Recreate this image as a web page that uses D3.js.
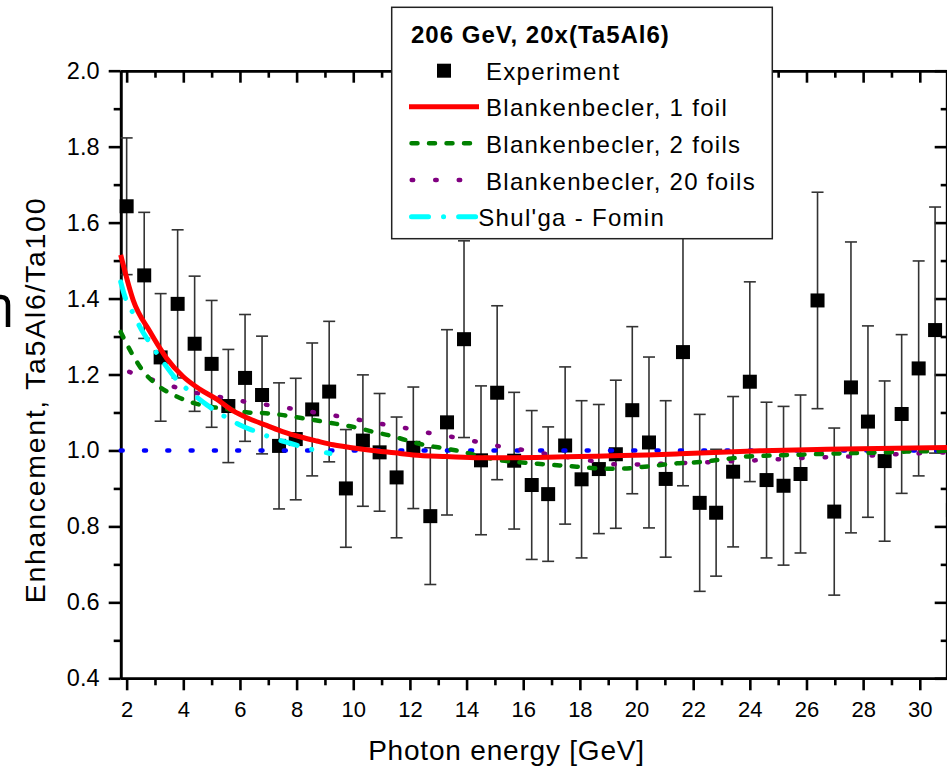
<!DOCTYPE html>
<html><head><meta charset="utf-8">
<script src="https://cdn.jsdelivr.net/npm/d3@7"></script>
<style>body{margin:0;background:#fff} svg{display:block}</style>
</head><body>
<script>
// ---------- data ----------
const energies = [2.00,2.62,3.20,3.80,4.40,5.00,5.59,6.18,6.78,7.38,7.97,8.55,9.15,9.74,10.34,10.93,11.53,12.12,12.72,13.31,13.91,14.51,15.08,15.68,16.30,16.88,17.48,18.06,18.67,19.27,19.85,20.44,21.03,21.64,22.23,22.81,23.41,24.00,24.59,25.19,25.79,26.39,26.98,27.57,28.17,28.76,29.36,29.96,30.54,31.17];
const enhancement = [1.643,1.461,1.245,1.386,1.281,1.228,1.117,1.191,1.146,1.012,1.030,1.108,1.155,0.900,1.026,0.995,0.929,1.007,0.827,1.074,1.293,0.974,1.152,0.973,0.909,0.885,1.013,0.924,0.951,0.990,1.106,1.021,0.925,1.259,0.862,0.836,0.944,1.181,0.922,0.907,0.938,1.395,0.839,1.166,1.076,0.972,1.096,1.216,1.317,0.843];
const errors = [0.180,0.166,0.168,0.195,0.178,0.167,0.149,0.167,0.155,0.166,0.160,0.175,0.185,0.155,0.173,0.155,0.159,0.160,0.180,0.244,0.259,0.196,0.229,0.180,0.196,0.177,0.207,0.207,0.170,0.195,0.220,0.225,0.206,0.352,0.233,0.167,0.198,0.263,0.205,0.209,0.208,0.285,0.220,0.383,0.252,0.211,0.209,0.283,0.324,0.180];

const oneFoilE = [1.79,2.23,2.82,3.41,4.00,4.59,5.18,5.76,6.35,6.94,7.53,8.12,8.71,9.29,9.88,10.47,11.65,12.11,13.30,14.47,15.64,16.83,18.00,19.17,20.36,21.53,24.36,26.71,30.96];
const oneFoilV = [1.515,1.396,1.313,1.243,1.194,1.161,1.135,1.104,1.083,1.066,1.049,1.036,1.025,1.015,1.008,1.002,0.992,0.988,0.984,0.981,0.981,0.982,0.984,0.986,0.988,0.991,0.999,1.003,1.008];

const twoFoilsE = [1.79,2.18,2.57,3.12,3.77,4.41,5.06,5.65,6.29,6.91,7.53,8.12,8.77,9.41,10.06,10.71,11.36,11.83,12.53,13.18,13.83,14.47,15.12,15.71,16.35,17.00,17.59,18.24,18.89,19.47,20.12,20.77,21.42,22.00,22.65,23.24,23.89,24.53,25.77,27.01,28.30,29.53,30.95];
const twoFoilsV = [1.312,1.256,1.210,1.170,1.142,1.124,1.114,1.108,1.100,1.098,1.093,1.086,1.078,1.070,1.061,1.049,1.038,1.028,1.014,1.006,0.997,0.985,0.975,0.970,0.966,0.962,0.959,0.955,0.952,0.952,0.956,0.961,0.966,0.968,0.973,0.978,0.984,0.986,0.989,0.992,0.994,0.997,0.999];

const twentyFoilsE = [2.09,2.92,3.74,4.59,5.41,6.24,7.06,7.91,8.73,9.56,10.39,11.20,12.06,12.88,13.71,14.55,15.38,16.20,17.02,17.89,18.71,19.53,20.36,21.18,22.85,24.51,26.16,27.83,29.50,30.95];
const twentyFoilsV = [1.207,1.186,1.166,1.149,1.139,1.128,1.119,1.109,1.099,1.089,1.078,1.067,1.056,1.043,1.033,1.020,1.008,0.999,0.988,0.979,0.969,0.962,0.964,0.966,0.970,0.975,0.981,0.985,0.991,0.995];

const shulgaE = [1.79,1.94,2.23,2.53,2.82,3.24,3.77,4.24,4.83,5.47,6.00,6.59,7.18,7.77,8.36,9.00,9.18];
const shulgaV = [1.444,1.405,1.361,1.317,1.283,1.238,1.186,1.155,1.120,1.089,1.067,1.049,1.032,1.019,1.006,0.995,0.992];

const referenceE = [1.79,30.95];
const referenceV = [1.0,1.0];

const xMajorTicks = [2,4,6,8,10,12,14,16,18,20,22,24,26,28,30];
const xMinorTicks = [3,5,7,9,11,13,15,17,19,21,23,25,27,29];
const yMajorTicks = [0.4,0.6,0.8,1.0,1.2,1.4,1.6,1.8,2.0];
const yMinorTicks = [0.5,0.7,0.9,1.1,1.3,1.5,1.7,1.9];

const legendTitle = "206 GeV, 20x(Ta5Al6)";
const legendLabels = ["Experiment","Blankenbecler, 1 foil","Blankenbecler, 2 foils","Blankenbecler, 20 foils","Shul'ga - Fomin"];
const xTitle = "Photon energy [GeV]";
const yTitle = "Enhancement, Ta5Al6/Ta100";

// ---------- layout ----------
const W = 947, H = 768;
const L = 120.7, R = 946.7, T = 70.7, B = 678.3;
const FONT = "'Liberation Sans', Arial, sans-serif";

const svg = d3.select("body").append("svg").attr("width", W).attr("height", H);
const x = d3.scaleLinear().domain([1.79, 30.95]).range([L, R]);
const y = d3.scaleLinear().domain([0.4, 2.0]).range([B, T]);

const styles = {
  reference: {color:"#0000ff", width:4.5, dash:"2,21.3", cap:"round"},
  twenty: {color:"#800080", width:4.5, dash:"1.5,22", cap:"round"},
  two: {color:"#008000", width:4.5, dash:"6,11.5", cap:"round"},
  shulga: {color:"#00ffff", width:5, dash:"17,15,0.1,15", cap:"round"},
  one: {color:"#ff0000", width:5, dash:null, cap:"butt"}
};

// ---------- axes ----------
function styleAxis(g){
  g.select(".domain").attr("stroke","#000").attr("stroke-width",2.6);
  g.selectAll(".tick line").attr("stroke","#000").attr("stroke-width",2.6);
}
// bottom
const gB = svg.append("g").attr("transform",`translate(0,${B})`)
  .call(d3.axisBottom(x).tickValues(xMajorTicks).tickSize(12).tickSizeOuter(0).tickPadding(11.4).tickFormat(d3.format("d")));
styleAxis(gB);
gB.selectAll("text").attr("font-family",FONT).attr("font-size",22).attr("fill","#000");
const gBm = svg.append("g").attr("transform",`translate(0,${B})`)
  .call(d3.axisBottom(x).tickValues(xMinorTicks).tickSize(7).tickSizeOuter(0).tickFormat(""));
styleAxis(gBm);
// top (inward)
const gT = svg.append("g").attr("transform",`translate(0,${T})`)
  .call(d3.axisBottom(x).tickValues(xMajorTicks).tickSize(12).tickSizeOuter(0).tickFormat(""));
styleAxis(gT);
const gTm = svg.append("g").attr("transform",`translate(0,${T})`)
  .call(d3.axisBottom(x).tickValues(xMinorTicks).tickSize(7).tickSizeOuter(0).tickFormat(""));
styleAxis(gTm);
// left
const gL = svg.append("g").attr("transform",`translate(${L},0)`)
  .call(d3.axisLeft(y).tickValues(yMajorTicks).tickSize(12).tickSizeOuter(0).tickPadding(9.2).tickFormat(d3.format(".1f")));
styleAxis(gL);
gL.selectAll("text").attr("font-family",FONT).attr("font-size",23.5).attr("fill","#000");
const gLm = svg.append("g").attr("transform",`translate(${L},0)`)
  .call(d3.axisLeft(y).tickValues(yMinorTicks).tickSize(7).tickSizeOuter(0).tickFormat(""));
styleAxis(gLm);
// right (inward)
const gR = svg.append("g").attr("transform",`translate(${R},0)`)
  .call(d3.axisLeft(y).tickValues(yMajorTicks).tickSize(12).tickSizeOuter(0).tickFormat(""));
styleAxis(gR);
const gRm = svg.append("g").attr("transform",`translate(${R},0)`)
  .call(d3.axisLeft(y).tickValues(yMinorTicks).tickSize(6).tickSizeOuter(0).tickFormat(""));
styleAxis(gRm);

// axis titles
svg.append("text").attr("x", 506.5).attr("y", 760).attr("text-anchor","middle")
  .attr("font-family",FONT).attr("font-size",28).attr("letter-spacing",0.8).text(xTitle);
svg.append("text").attr("transform","translate(45,400) rotate(-90)").attr("text-anchor","middle")
  .attr("font-family",FONT).attr("font-size",28.5).attr("letter-spacing",1.7).text(yTitle);

// stray glyph fragment at left edge
svg.append("path").attr("d","M-4,297 L1,297 Q8,297 8,305 L8,327")
  .attr("fill","none").attr("stroke","#000").attr("stroke-width",4.5);

// ---------- experiment ----------
const pts = energies.map((e,i)=>({e, v:enhancement[i], err:errors[i]}));
const gE = svg.append("g");
gE.selectAll("line.bar").data(pts).join("line").attr("class","bar")
  .attr("x1",d=>x(d.e)).attr("x2",d=>x(d.e))
  .attr("y1",d=>y(d.v-d.err)).attr("y2",d=>y(d.v+d.err))
  .attr("stroke","#333").attr("stroke-width",1.6);
["lo","hi"].forEach(k=>{
  gE.selectAll("line.cap"+k).data(pts).join("line").attr("class","cap"+k)
    .attr("x1",d=>x(d.e)-6).attr("x2",d=>x(d.e)+6)
    .attr("y1",d=>y(k==="lo"?d.v-d.err:d.v+d.err)).attr("y2",d=>y(k==="lo"?d.v-d.err:d.v+d.err))
    .attr("stroke","#333").attr("stroke-width",1.6);
});
gE.selectAll("rect").data(pts).join("rect")
  .attr("x",d=>x(d.e)-7).attr("y",d=>y(d.v)-7).attr("width",14).attr("height",14).attr("fill","#000");

// ---------- curves ----------
const line = d3.line().x(d=>x(d[0])).y(d=>y(d[1])).curve(d3.curveMonotoneX);
function drawCurve(E,V,s){
  svg.append("path").datum(E.map((e,i)=>[e,V[i]])).attr("d",line)
    .attr("fill","none").attr("stroke",s.color).attr("stroke-width",s.width)
    .attr("stroke-dasharray",s.dash).attr("stroke-linecap",s.cap);
}
drawCurve(referenceE, referenceV, styles.reference);
drawCurve(twentyFoilsE, twentyFoilsV, styles.twenty);
drawCurve(twoFoilsE, twoFoilsV, styles.two);
drawCurve(shulgaE, shulgaV, styles.shulga);
drawCurve(oneFoilE, oneFoilV, styles.one);

// ---------- legend ----------
const lg = svg.append("g");
lg.append("rect").attr("x",391.7).attr("y",7.3).attr("width",380.6).attr("height",231.4)
  .attr("fill","#fff").attr("stroke","#222").attr("stroke-width",1.5);
lg.append("text").attr("x",411).attr("y",43.3).attr("font-family",FONT).attr("font-weight","bold")
  .attr("font-size",24).attr("letter-spacing",1).text(legendTitle);
const rowY = [70.7,106.7,143.3,180,216.7];
const keyStyles = [null, styles.one, styles.two, styles.twenty, styles.shulga];
legendLabels.forEach((lab,i)=>{
  const cy = rowY[i];
  if(i===0){
    lg.append("rect").attr("x",444-7).attr("y",cy-7).attr("width",14).attr("height",14).attr("fill","#000");
  } else {
    const s = keyStyles[i];
    const x0 = i===2||i===4 ? 411.5 : (i===3 ? 411.7 : 409);
    lg.append("line").attr("x1",x0).attr("x2",i===4?476:479).attr("y1",cy).attr("y2",cy)
      .attr("stroke",s.color).attr("stroke-width",s.width)
      .attr("stroke-dasharray",s.dash).attr("stroke-linecap",s.cap);
  }
  lg.append("text").attr("x", i===4?478.3:486).attr("y",cy+9.5).attr("font-family",FONT)
    .attr("font-size",24).attr("letter-spacing",1.3).text(lab);
});
</script>
</body></html>
